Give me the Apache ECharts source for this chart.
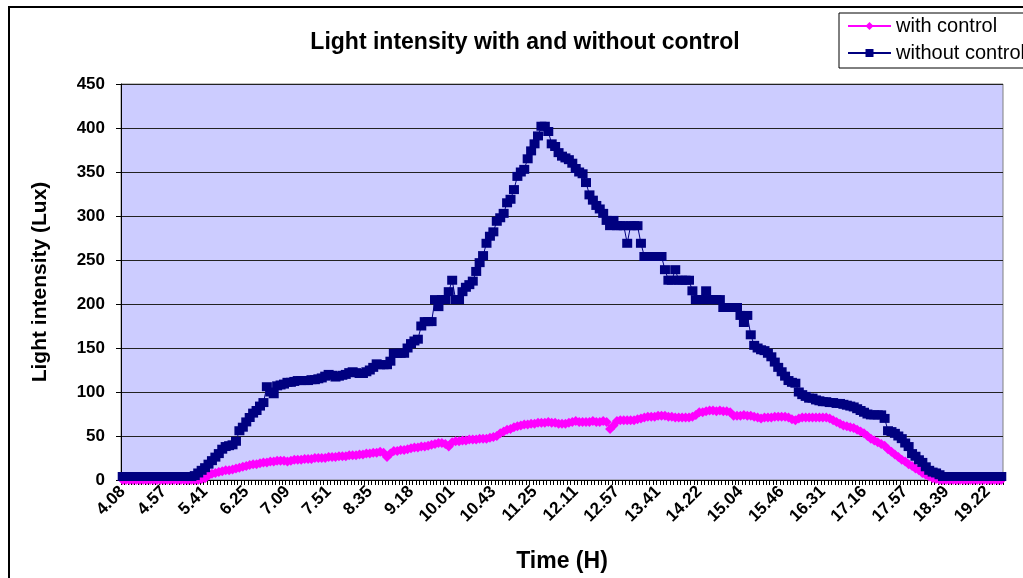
<!DOCTYPE html>
<html>
<head>
<meta charset="utf-8">
<title>Light intensity with and without control</title>
<script src="https://cdn.jsdelivr.net/npm/echarts@6/dist/echarts.min.js"></script>
<style>
  html, body { margin: 0; padding: 0; background: #fff; }
  #chart { width: 1023px; height: 578px; }
</style>
</head>
<body>
<div id="chart"></div>
<script>
// tick labels shown on the time axis (one every 12 samples)
const timeLabels = ['4.08', '4.57', '5.41', '6.25', '7.09', '7.51', '8.35', '9.18', '10.01', '10.43', '11.25',
  '12.11', '12.57', '13.41', '14.22', '15.04', '15.46', '16.31', '17.16', '17.57', '18.39', '19.22'];
const labelStep = 12;

// light intensity (Lux), with control
const withControl = [
  0, 0, 0, 0, 0, 0, 0, 0, 0, 0,
  0, 0, 0, 0, 0, 0, 0, 0, 0, 0,
  0, 0, 0, 1, 2, 5, 7, 8, 9, 10,
  11, 11, 12, 13, 14, 15, 16, 17, 18, 18,
  19, 20, 20, 21, 21, 22, 22, 22, 21, 22,
  23, 23, 23, 24, 24, 24, 25, 25, 25, 25,
  26, 26, 26, 27, 27, 27, 28, 28, 28, 29,
  29, 30, 30, 31, 31, 32, 31, 26, 30, 33,
  33, 34, 34, 35, 36, 37, 37, 38, 38, 39,
  40, 41, 42, 42, 41, 38, 43, 44, 44, 45,
  45, 46, 46, 46, 47, 47, 47, 48, 49, 50,
  53, 55, 57, 58, 60, 61, 62, 63, 63, 64,
  64, 65, 65, 65, 66, 65, 65, 64, 64, 64,
  65, 66, 67, 66, 66, 66, 66, 67, 66, 66,
  67, 66, 58, 62, 67, 68, 68, 68, 68, 68,
  69, 70, 71, 72, 72, 72, 73, 73, 73, 72,
  72, 71, 71, 71, 71, 71, 72, 74, 77, 77,
  78, 79, 79, 78, 79, 78, 78, 77, 73, 73,
  73, 74, 73, 73, 72, 71, 70, 71, 71, 71,
  72, 72, 72, 72, 71, 69, 68, 70, 71, 71,
  71, 71, 71, 71, 71, 71, 70, 68, 66, 64,
  62, 61, 60, 59, 57, 55, 53, 50, 47, 45,
  43, 41, 39, 35, 32, 29, 26, 23, 21, 18,
  16, 13, 11, 8, 6, 4, 2, 1, 0, 0,
  0, 0, 0, 0, 0, 0, 0, 0, 0, 0,
  0, 0, 0, 0, 0, 0, 0
];

// light intensity (Lux), without control
const withoutControl = [
  4, 4, 4, 4, 4, 4, 4, 4, 4, 4,
  4, 4, 4, 4, 4, 4, 4, 4, 4, 4,
  4, 5, 8, 11, 14, 18, 22, 26, 30, 35,
  38, 39, 40, 44, 56, 60, 66, 71, 76, 79,
  84, 88, 106, 100, 98, 107, 108, 109, 111, 111,
  112, 113, 113, 113, 113, 114, 114, 115, 116, 118,
  120, 119, 117, 118, 119, 120, 122, 123, 122, 121,
  121, 123, 125, 128, 132, 131, 131, 131, 135, 144,
  144, 144, 144, 150, 155, 158, 160, 175, 180, 180,
  180, 205, 197, 205, 205, 214, 227, 205, 205, 214,
  219, 222, 226, 237, 247, 255, 269, 277, 282, 294,
  298, 303, 315, 319, 330, 345, 350, 353, 365, 374,
  382, 391, 402, 402, 396, 382, 379, 372, 368, 366,
  364, 360, 354, 350, 348, 338, 324, 318, 312, 308,
  303, 295, 289, 295, 289, 289, 289, 269, 289, 289,
  289, 269, 254, 254, 254, 254, 254, 254, 239, 227,
  227, 239, 227, 227, 227, 227, 215, 205, 205, 205,
  215, 205, 205, 205, 205, 196, 196, 196, 196, 196,
  187, 179, 187, 165, 153, 150, 148, 147, 144, 140,
  134, 128, 123, 118, 113, 111, 110, 100, 97, 95,
  93, 93, 91, 90, 89, 89, 88, 88, 87, 87,
  86, 85, 84, 83, 81, 79, 77, 75, 74, 74,
  74, 74, 70, 56, 55, 53, 50, 47, 42, 38,
  30, 27, 23, 20, 15, 11, 9, 8, 6, 4,
  4, 4, 4, 4, 4, 4, 4, 4, 4, 4,
  4, 4, 4, 4, 4, 4, 4
];

// sample numbers as categories
const samples = withoutControl.map((v, i) => String(i));

const chart = echarts.init(document.getElementById('chart'), null, { renderer: 'canvas' });
const font = 'Arial, "Liberation Sans", sans-serif';

const option = {
  backgroundColor: '#ffffff',
  animation: false,
  textStyle: { fontFamily: font, color: '#000' },
  // outer chart frame
  graphic: [{
    type: 'rect',
    z: -10,
    shape: { x: 9, y: 7, width: 1100, height: 700 },
    style: { fill: 'none', stroke: '#000', lineWidth: 2 }
  }],
  title: {
    text: 'Light intensity with and without control',
    left: 520,
    top: 26,
    textAlign: 'center',
    textStyle: { fontFamily: font, fontSize: 23, fontWeight: 'bold', color: '#000' }
  },
  legend: {
    orient: 'vertical',
    left: 839,
    top: 13,
    itemWidth: 43,
    itemHeight: 10,
    itemGap: 7,
    padding: [3, 40, 5, 8],
    backgroundColor: '#fff',
    borderColor: '#000',
    borderWidth: 1,
    borderRadius: 0,
    textStyle: { fontFamily: font, fontSize: 20, color: '#000' },
    data: ['with control', 'without control']
  },
  grid: {
    left: 121,
    right: 20,
    top: 84,
    bottom: 96,
    show: true,
    backgroundColor: '#CCCCFF',
    borderColor: '#808080',
    borderWidth: 1
  },
  xAxis: {
    type: 'category',
    data: samples,
    boundaryGap: true,
    name: 'Time (H)',
    nameLocation: 'middle',
    nameGap: 70,
    nameTextStyle: { fontFamily: font, fontSize: 23, fontWeight: 'bold', color: '#000' },
    axisLine: { lineStyle: { color: '#000', width: 1 } },
    axisTick: { show: true, interval: 0, length: 5, lineStyle: { color: '#000' } },
    axisLabel: {
      interval: labelStep - 1,
      rotate: 45,
      margin: 9,
      fontFamily: font,
      fontSize: 17,
      fontWeight: 'bold',
      color: '#000',
      formatter: (val, idx) => timeLabels[idx / labelStep] || ''
    },
    splitLine: { show: false }
  },
  yAxis: {
    type: 'value',
    min: 0,
    max: 450,
    interval: 50,
    name: 'Light intensity (Lux)',
    nameLocation: 'middle',
    nameGap: 70,
    nameTextStyle: { fontFamily: font, fontSize: 21, fontWeight: 'bold', color: '#000' },
    axisLine: { show: true, lineStyle: { color: '#000', width: 1 } },
    axisTick: { show: true, length: 5, lineStyle: { color: '#000' } },
    axisLabel: { margin: 16, fontFamily: font, fontSize: 17, fontWeight: 'bold', color: '#000' },
    splitLine: { show: true, lineStyle: { color: '#222', width: 1 } }
  },
  series: [
    {
      name: 'with control',
      type: 'line',
      data: withControl,
      symbol: 'diamond',
      symbolSize: 10,
      showAllSymbol: true,
      lineStyle: { color: '#FF00FF', width: 1 },
      itemStyle: { color: '#FF00FF' }
    },
    {
      name: 'without control',
      type: 'line',
      data: withoutControl,
      symbol: 'rect',
      symbolSize: [10, 9],
      showAllSymbol: true,
      lineStyle: { color: '#000080', width: 1 },
      itemStyle: { color: '#000080' }
    }
  ]
};

chart.setOption(option);
</script>
</body>
</html>
